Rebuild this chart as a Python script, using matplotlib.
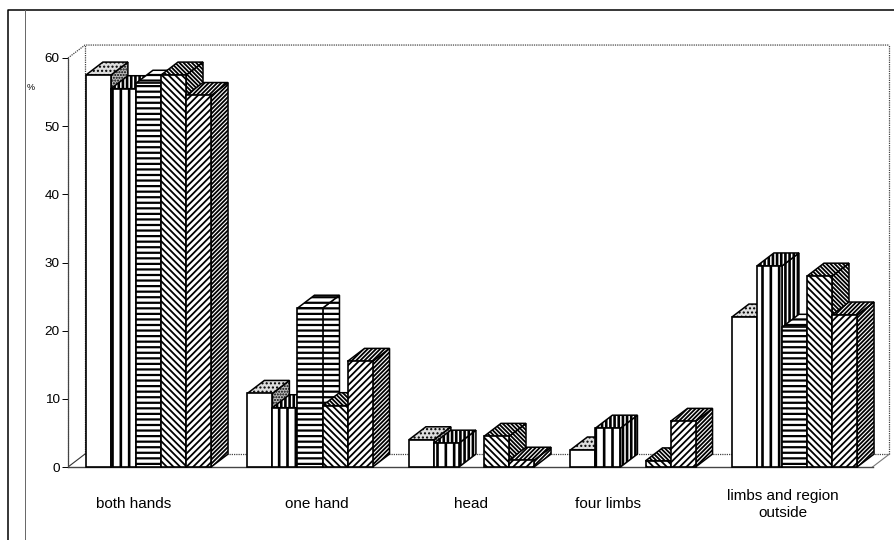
#%% LIBRERIAS:
import matplotlib
matplotlib.use("Agg")
import matplotlib.pyplot as plt
from matplotlib.lines import Line2D
from matplotlib.patches import Polygon

plt.rcParams["font.family"] = ["Liberation Sans", "DejaVu Sans"]

#%% DATOS:
regiones = ["both hands", "one hand", "head", "four limbs", "limbs and region\noutside"]
serie_1 = [57.5, 10.8, 4.0, 2.5, 22.0]
serie_2 = [55.5, 8.7, 3.5, 5.7, 29.5]
serie_3 = [56.3, 23.3, 0.0, 0.0, 20.5]
serie_4 = [57.5, 9.0, 4.5, 0.9, 28.0]
serie_5 = [54.5, 15.5, 1.0, 6.7, 22.3]
series = [serie_1, serie_2, serie_3, serie_4, serie_5]
ticks_y = [0, 10, 20, 30, 40, 50, 60]

# centro de las etiquetas, no coinciden con los grupos
pos_etiquetas = [-0.09, 0.043, -0.005, -0.155, -0.07]

#%% ESTILOS:
ancho = 0.155
prof_x = 0.105
prof_y = 1.9
hatch_frente = [None, "||", "---", "\\" * 5, "/" * 5]
hatch_costado = ["......", "||||", "---", "\\" * 8, "/" * 8]
hatch_arriba = ["....", "||||", "---", "\\" * 8, "/" * 8]
fondo_costado = ["#bbbbbb", "white", "white", "white", "white"]
fondo_arriba = ["#dddddd", "white", "white", "white", "white"]
grosor_hatch = [1.0, 1.9, 1.6, 1.3, 1.3]

fig = plt.figure(figsize=(8.94, 5.4), dpi=100)
ax = fig.add_axes([68 / 894, 1 - 467 / 540, (872.5 - 68) / 894, (467 - 58) / 540])
ax.set_xlim((68 - 148.5) / 161.5, (872.5 - 148.5) / 161.5)
ax.set_ylim(0, 60)

#%% PAREDES (punteadas, grises):
x0, x1 = ax.get_xlim()
gris = dict(color="#444444", lw=0.9, ls=(0, (1, 0.8)), clip_on=False, zorder=1)
ax.plot([x0, x0 + prof_x, x1 + prof_x], [60, 60 + prof_y, 60 + prof_y], **gris)
ax.plot([x0 + prof_x, x0 + prof_x], [prof_y, 60 + prof_y], **gris)
ax.plot([x0 + prof_x, x1 + prof_x], [prof_y, prof_y], **gris)
ax.plot([x1 + prof_x, x1 + prof_x], [prof_y, 60 + prof_y], **gris)
ax.plot([x0, x0 + prof_x], [0, prof_y], color="#333333", lw=0.8, zorder=1)
ax.plot([x1, x1 + prof_x], [0, prof_y], color="#777777", lw=0.8, clip_on=False, zorder=1)
ax.plot([x0, x1], [0, 0], color="#444444", lw=1.0, clip_on=False, zorder=1)

#%% BARRAS (de izquierda a derecha, cada una tapa el costado de la anterior):
z = 3
for i in range(len(regiones)):
    for j, serie in enumerate(series):
        h = serie[i]
        if h == 0:
            continue
        plt.rcParams["hatch.linewidth"] = grosor_hatch[j]
        izq = i + (j - 2.5) * ancho
        der = izq + ancho
        costado = [(der, 0), (der + prof_x, prof_y), (der + prof_x, h + prof_y), (der, h)]
        arriba = [(izq, h), (izq + prof_x, h + prof_y), (der + prof_x, h + prof_y), (der, h)]
        ax.add_patch(Polygon(costado, fc=fondo_costado[j], ec="black", lw=1.1, hatch=hatch_costado[j],
                             clip_on=False, zorder=z))
        ax.add_patch(Polygon(arriba, fc=fondo_arriba[j], ec="black", lw=1.1, hatch=hatch_arriba[j],
                             clip_on=False, zorder=z))
        ax.bar(izq, h, width=ancho, align="edge", color="white", edgecolor="black", lw=1.2,
               hatch=hatch_frente[j], zorder=z + 0.5, clip_on=False)
        z += 1

#%% EJES Y TEXTOS:
for lado in ["top", "right", "bottom"]:
    ax.spines[lado].set_visible(False)
ax.spines["left"].set_linewidth(0.9)
ax.spines["left"].set_linestyle((0, (1, 0.8)))
ax.spines["left"].set_color("#444444")
ax.set_xticks([])
ax.set_yticks(ticks_y)
ax.tick_params(axis="y", length=4.5, width=0.7, pad=1.5, labelsize=9.7)
ax.patch.set_visible(False)

for i, region in enumerate(regiones):
    ax.text(i + pos_etiquetas[i], -5.5, region, ha="center", va="center", fontsize=11,
            linespacing=1.2, clip_on=False)

fig.text(31 / 894, 1 - 87 / 540, "%", fontsize=6.5, ha="center", va="center")

#%% MARCO:
fig.add_artist(Line2D([8 / 894, 8 / 894, 1], [0, 1 - 10 / 540, 1 - 10 / 540], color="black", lw=1.1))
fig.add_artist(Line2D([25 / 894, 25 / 894], [0, 1 - 10 / 540], color="#666666", lw=0.7))

fig.savefig("out.png", dpi=100)
